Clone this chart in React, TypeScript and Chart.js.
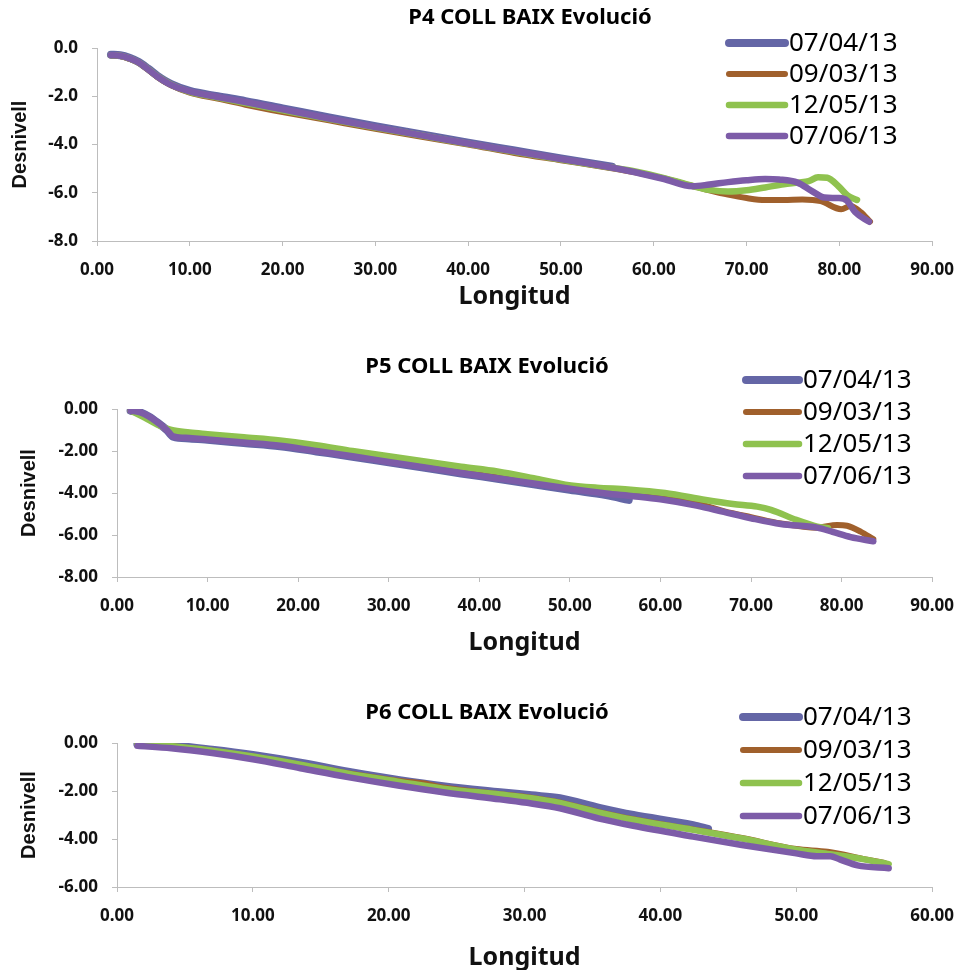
import React, { useEffect, useRef } from "react";
import { Chart, registerables } from "chart.js";
Chart.register(...registerables);

const seriesLabels = ["07/04/13", "09/03/13", "12/05/13", "07/06/13"];
const seriesColors = ["#6466a6", "#a0602c", "#8fc24f", "#7d5ca8"];
const seriesWidths = [8, 6, 6.5, 6.5];

// ---------- P4 ----------
const p4SlateX = [1.5, 2.5, 3.5, 4.5, 5.5, 6.5, 8, 10, 13, 16, 20, 25, 30, 35, 40, 45, 50, 55.5];
const p4SlateY = [-0.28, -0.3, -0.4, -0.58, -0.85, -1.15, -1.5, -1.78, -2.0, -2.2, -2.5, -2.88, -3.24, -3.58, -3.92, -4.25, -4.58, -4.92];
const p4BrownX = [1.5, 2.5, 3.5, 4.5, 5.5, 6.5, 8, 10, 13, 16, 20, 25, 30, 35, 40, 45, 50, 55, 58, 61, 64, 66, 68, 70, 72, 74, 76, 78, 80.2, 81.2, 82.3, 83.3];
const p4BrownY = [-0.3, -0.33, -0.45, -0.62, -0.9, -1.2, -1.55, -1.85, -2.1, -2.35, -2.65, -3.0, -3.35, -3.68, -4.0, -4.35, -4.65, -4.95, -5.15, -5.4, -5.7, -5.9, -6.08, -6.22, -6.3, -6.3, -6.28, -6.35, -6.68, -6.55, -6.8, -7.2];
const p4GreenX = [1.5, 2.5, 3.5, 4.5, 5.5, 6.5, 8, 10, 13, 16, 20, 25, 30, 35, 40, 45, 50, 55, 58, 61, 64.2, 66, 68, 70, 72, 74, 75.6, 76.7, 77.7, 78.7, 79.9, 80.9, 81.9];
const p4GreenY = [-0.3, -0.32, -0.43, -0.6, -0.87, -1.17, -1.52, -1.82, -2.05, -2.28, -2.58, -2.95, -3.3, -3.63, -3.97, -4.3, -4.62, -4.93, -5.12, -5.38, -5.72, -5.88, -5.95, -5.9, -5.78, -5.65, -5.58, -5.52, -5.36, -5.38, -5.73, -6.12, -6.3];
const p4PurpleX = [1.5, 2.5, 3.5, 4.5, 5.5, 6.5, 8, 10, 13, 16, 20, 25, 30, 35, 40, 45, 50, 55, 58, 61, 64.2, 66, 68, 70, 72, 73.5, 75.5, 77, 78.4, 79.9, 80.8, 81.7, 83.2];
const p4PurpleY = [-0.3, -0.32, -0.43, -0.6, -0.88, -1.18, -1.53, -1.8, -2.03, -2.24, -2.54, -2.92, -3.28, -3.62, -3.96, -4.28, -4.6, -4.92, -5.15, -5.42, -5.73, -5.66, -5.56, -5.48, -5.43, -5.45, -5.58, -5.92, -6.2, -6.22, -6.32, -6.8, -7.2];

// ---------- P5 ----------
const p5SlateX = [1.5, 2.5, 3.5, 4.5, 5.5, 6.2, 8, 10, 14, 18, 22, 26, 30, 34, 38, 42, 46, 50, 54, 56.5];
const p5SlateY = [-0.08, -0.15, -0.35, -0.65, -1.0, -1.32, -1.4, -1.47, -1.62, -1.77, -2.02, -2.27, -2.54, -2.8, -3.07, -3.32, -3.58, -3.85, -4.1, -4.33];
const p5BrownX = [1.5, 3, 4.5, 6, 8, 10, 14, 18, 22, 26, 30, 34, 38, 42, 46, 50, 54, 57, 60, 64, 67.8, 70, 73.3, 77.3, 79.5, 80.6, 82.1, 83.5];
const p5BrownY = [-0.08, -0.3, -0.65, -1.15, -1.3, -1.38, -1.52, -1.68, -1.92, -2.18, -2.45, -2.72, -3.0, -3.25, -3.5, -3.75, -3.95, -4.05, -4.2, -4.5, -4.95, -5.15, -5.45, -5.65, -5.52, -5.56, -5.84, -6.2];
const p5GreenX = [1.5, 3, 4.5, 6, 8, 10, 14, 18, 22, 26, 30, 34, 38, 42, 46, 49.5, 53, 56.4, 60.5, 65, 68, 70.7, 72.2, 75, 77.3, 78.5];
const p5GreenY = [-0.08, -0.4, -0.75, -1.0, -1.12, -1.2, -1.35, -1.5, -1.72, -2.0, -2.25, -2.5, -2.75, -2.98, -3.3, -3.6, -3.75, -3.83, -4.0, -4.33, -4.52, -4.65, -4.8, -5.28, -5.6, -5.68];
const p5PurpleX = [1.5, 2.5, 3.5, 4.5, 5.5, 6.2, 8, 10, 14, 18, 22, 26, 30, 34, 38, 42, 46, 50, 54, 57, 60, 64, 67, 70, 73.3, 77.3, 79, 81, 83.5];
const p5PurpleY = [-0.08, -0.15, -0.35, -0.65, -1.0, -1.3, -1.38, -1.45, -1.6, -1.75, -2.0, -2.25, -2.52, -2.78, -3.05, -3.3, -3.55, -3.8, -4.02, -4.15, -4.3, -4.6, -4.9, -5.2, -5.48, -5.65, -5.85, -6.1, -6.3];

// ---------- P6 ----------
const p6SlateX = [1.5, 4, 7, 10, 13.5, 17, 20.8, 24, 28.2, 30.5, 32.6, 35.5, 38, 42.4, 43.5];
const p6SlateY = [-0.05, -0.1, -0.28, -0.5, -0.82, -1.2, -1.55, -1.8, -2.05, -2.18, -2.3, -2.7, -3.0, -3.42, -3.58];
const p6BrownX = [1.5, 4, 7, 10, 13.5, 17, 20.8, 22.5, 24, 28.2, 30.5, 32.6, 35.5, 38, 42.4, 46, 50, 52.3, 55.1, 56.5];
const p6BrownY = [-0.06, -0.13, -0.32, -0.56, -0.9, -1.26, -1.58, -1.68, -1.85, -2.13, -2.28, -2.48, -2.88, -3.18, -3.6, -3.96, -4.42, -4.53, -4.85, -5.0];
const p6GreenX = [1.5, 4, 7, 10, 13.5, 17, 20.8, 24, 28.2, 30.5, 32.6, 35.5, 38, 42.4, 46, 50, 52.3, 55, 56.8];
const p6GreenY = [-0.06, -0.13, -0.32, -0.56, -0.9, -1.28, -1.62, -1.9, -2.15, -2.3, -2.5, -2.9, -3.2, -3.62, -3.98, -4.45, -4.62, -4.85, -5.05];
const p6PurpleX = [1.5, 4, 7, 10, 13.5, 17, 20.8, 24, 28.2, 30.5, 32.6, 35.5, 38, 42.4, 46, 50, 51.5, 52.5, 53.2, 54.5, 56.8];
const p6PurpleY = [-0.12, -0.22, -0.42, -0.68, -1.05, -1.42, -1.78, -2.05, -2.35, -2.52, -2.72, -3.15, -3.45, -3.9, -4.25, -4.6, -4.72, -4.72, -4.85, -5.1, -5.22];

const p4Title = "P4 COLL BAIX Evolució";
const p5Title = "P5 COLL BAIX Evolució";
const p6Title = "P6 COLL BAIX Evolució";
const xAxisTitle = "Longitud";
const yAxisTitle = "Desnivell";

const zip = (xs: number[], ys: number[]) => xs.map((x, i) => ({ x, y: ys[i] }));

const decorPlugin = {
  id: "decor",
  afterDraw(chart: any, _args: any, opts: any) {
    const ctx = chart.ctx as CanvasRenderingContext2D;
    ctx.save();
    ctx.fillStyle = "#000";
    ctx.font = opts.titleFont;
    ctx.textAlign = "center";
    ctx.textBaseline = "middle";
    ctx.fillText(opts.title, opts.titleX, opts.titleY);
    chart.data.datasets.forEach((ds: any, i: number) => {
      const y = opts.legendY + i * opts.legendStep;
      ctx.strokeStyle = ds.borderColor;
      ctx.lineWidth = ds.borderWidth;
      ctx.lineCap = "round";
      ctx.beginPath();
      ctx.moveTo(opts.legendX0, y);
      ctx.lineTo(opts.legendX1, y);
      ctx.stroke();
      ctx.font = opts.legendFont;
      ctx.textAlign = "left";
      ctx.fillStyle = "#000";
      ctx.fillText(ds.label, opts.legendX1 + 4, y + 1);
    });
    ctx.restore();
  },
};

type Spec = {
  width: number;
  height: number;
  area: { left: number; right: number; top: number; bottom: number };
  xMax: number;
  yMin: number;
  yDecimals: number;
  series: { x: number[]; y: number[] }[];
  title: string;
  titleX: number;
  titleY: number;
  legendX0: number;
  legendX1: number;
  legendY: number;
  legendStep: number;
  yTitlePad: number;
  xTitlePad: number;
};

const gridColor = "#bdbdbd";

function ChartPanel({ spec, top }: { spec: Spec; top: number }) {
  const ref = useRef<HTMLCanvasElement | null>(null);
  useEffect(() => {
    if (!ref.current) return;
    const s = spec;
    const n = s.series.length;
    const chart = new Chart(ref.current, {
      type: "line",
      data: {
        datasets: s.series.map((sr, i) => ({
          label: seriesLabels[i],
          data: zip(sr.x, sr.y),
          borderColor: seriesColors[i],
          backgroundColor: seriesColors[i],
          borderWidth: seriesWidths[i],
          order: n - 1 - i,
          pointRadius: 0,
          fill: false,
          cubicInterpolationMode: "monotone",
          borderCapStyle: "round",
          borderJoinStyle: "round",
        })),
      },
      options: {
        responsive: false,
        animation: false,
        events: [],
        layout: {
          padding: { left: 0, top: s.area.top, right: s.width - s.area.right, bottom: 0 },
        },
        plugins: {
          legend: { display: false },
          title: { display: false },
          tooltip: { enabled: false },
          decor: {
            title: s.title,
            titleX: s.titleX,
            titleY: s.titleY,
            titleFont: "bold 22px 'Noto Sans'",
            legendFont: "26px 'Noto Sans'",
            legendX0: s.legendX0,
            legendX1: s.legendX1,
            legendY: s.legendY,
            legendStep: s.legendStep,
          },
        } as any,
        scales: {
          x: {
            type: "linear",
            min: 0,
            max: s.xMax,
            afterFit: (scale: any) => {
              scale.height = s.height - s.area.bottom;
            },
            ticks: {
              stepSize: 10,
              autoSkip: false,
              maxRotation: 0,
              padding: 14,
              color: "#111",
              font: { family: "'Noto Sans'", size: 17, weight: "bold" },
              callback: (v: any) => Number(v).toFixed(2),
            },
            grid: { drawOnChartArea: false, drawTicks: true, tickLength: 5, color: gridColor },
            border: { display: true, color: gridColor, width: 1 },
            title: {
              display: true,
              text: xAxisTitle,
              color: "#111",
              font: { family: "'Noto Sans'", size: 25, weight: "bold", lineHeight: 1.0 },
              padding: { top: 0, bottom: s.xTitlePad },
            },
          },
          y: {
            type: "linear",
            min: s.yMin,
            max: 0,
            afterFit: (scale: any) => {
              scale.width = s.area.left;
            },
            ticks: {
              stepSize: 2,
              padding: 14,
              color: "#111",
              font: { family: "'Noto Sans'", size: 17, weight: "bold" },
              callback: (v: any) => Number(v).toFixed(s.yDecimals),
            },
            grid: { drawOnChartArea: false, drawTicks: true, tickLength: 5, color: gridColor },
            border: { display: true, color: gridColor, width: 1 },
            title: {
              display: true,
              text: yAxisTitle,
              color: "#111",
              font: { family: "'Liberation Sans'", size: 20, weight: "bold", lineHeight: 1.2 },
              padding: { top: s.yTitlePad, bottom: 0 },
            },
          },
        },
      } as any,
      plugins: [decorPlugin as any],
    });
    return () => chart.destroy();
  }, [spec]);
  return (
    <canvas
      ref={ref}
      width={spec.width}
      height={spec.height}
      style={{ position: "absolute", left: 0, top, width: spec.width, height: spec.height }}
    />
  );
}

const spec4: Spec = {
  width: 968,
  height: 320,
  area: { left: 97, right: 938, top: 48, bottom: 241 },
  xMax: 90,
  yMin: -8,
  yDecimals: 1,
  series: [
    { x: p4SlateX, y: p4SlateY },
    { x: p4BrownX, y: p4BrownY },
    { x: p4GreenX, y: p4GreenY },
    { x: p4PurpleX, y: p4PurpleY },
  ],
  title: p4Title,
  titleX: 530,
  titleY: 18,
  legendX0: 729,
  legendX1: 785,
  legendY: 43,
  legendStep: 31,
  yTitlePad: 8,
  xTitlePad: 11,
};

const spec5: Spec = {
  width: 968,
  height: 330,
  area: { left: 117, right: 935, top: 79, bottom: 247 },
  xMax: 90,
  yMin: -8,
  yDecimals: 2,
  series: [
    { x: p5SlateX, y: p5SlateY },
    { x: p5BrownX, y: p5BrownY },
    { x: p5GreenX, y: p5GreenY },
    { x: p5PurpleX, y: p5PurpleY },
  ],
  title: p5Title,
  titleX: 487,
  titleY: 37,
  legendX0: 746,
  legendX1: 799,
  legendY: 50,
  legendStep: 32,
  yTitlePad: 17,
  xTitlePad: 5,
};

const spec6: Spec = {
  width: 968,
  height: 310,
  area: { left: 117, right: 935, top: 83, bottom: 227 },
  xMax: 60,
  yMin: -6,
  yDecimals: 2,
  series: [
    { x: p6SlateX, y: p6SlateY },
    { x: p6BrownX, y: p6BrownY },
    { x: p6GreenX, y: p6GreenY },
    { x: p6PurpleX, y: p6PurpleY },
  ],
  title: p6Title,
  titleX: 487,
  titleY: 53,
  legendX0: 743,
  legendX1: 799,
  legendY: 57,
  legendStep: 33,
  yTitlePad: 17,
  xTitlePad: 0,
};

export default function App() {
  return (
    <div style={{ position: "absolute", left: 0, top: 0, width: 968, height: 970, background: "#fff" }}>
      <ChartPanel spec={spec4} top={0} />
      <ChartPanel spec={spec5} top={330} />
      <ChartPanel spec={spec6} top={660} />
    </div>
  );
}
